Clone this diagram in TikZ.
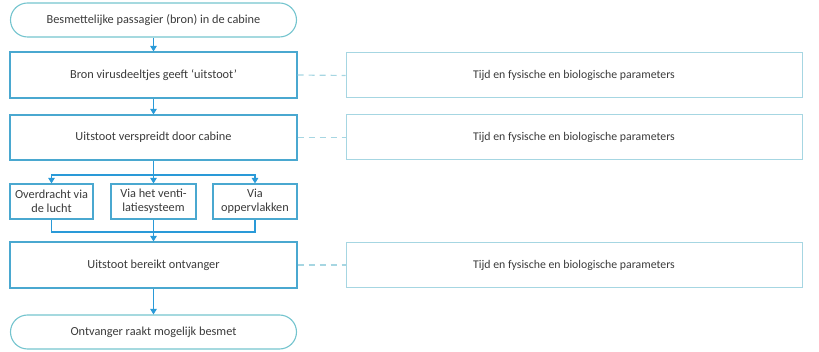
\documentclass[tikz,border=0pt]{standalone}
\usepackage{fontspec}
\setmainfont{Carlito}
\usetikzlibrary{arrows.meta}
\definecolor{mainblue}{HTML}{4AA8D0}
\definecolor{tealedge}{HTML}{74C4CE}
\definecolor{arrowblue}{HTML}{2A9AD8}
\definecolor{lightblue}{HTML}{A6D6E2}
\definecolor{txt}{HTML}{3A3A3A}
\tikzset{
  box/.style={draw=mainblue, line width=1.1pt, minimum width=287pt, minimum height=46pt, inner sep=0pt, font=\fontsize{12.3}{14}\selectfont, text=txt, align=center},
  stadium/.style={box, draw=tealedge, rounded corners=17pt, minimum width=286pt, minimum height=34pt},
  smallbox/.style={box, minimum height=35pt},
  parbox/.style={draw=lightblue, line width=1pt, minimum width=456pt, minimum height=45pt, inner sep=0pt, font=\fontsize{11.8}{14}\selectfont, text=txt},
  conn/.style={draw=arrowblue, line width=1.1pt},
  arr/.style={conn, -{Triangle[width=6.5pt,length=5.5pt]}},
  dashconn/.style={draw=lightblue, line width=1.2pt, dash pattern=on 6pt off 5pt}
}
\begin{document}
\begin{tikzpicture}[x=1pt,y=-1pt]
\useasboundingbox (0,0) rectangle (819,352);
\node[stadium] (start) at (153.5,20) {Besmettelijke passagier (bron) in de cabine};
\node[box] (b1) at (153.5,75) {Bron virusdeeltjes geeft ‘uitstoot’};
\node[box, minimum height=45pt] (b2) at (153.5,137.5) {Uitstoot verspreidt door cabine};
\node[smallbox, minimum width=83pt] (sa) at (51.5,201.5) {Overdracht via\\de lucht};
\node[smallbox, minimum width=85pt] (sb) at (153.5,201.5) {Via het venti-\\latiesysteem};
\node[smallbox, minimum width=84pt] (sc) at (255,201.5) {Via\\oppervlakken};
\node[box] (b3) at (153.5,265) {Uitstoot bereikt ontvanger};
\node[stadium] (end) at (153.5,332) {Ontvanger raakt mogelijk besmet};
\node[parbox] (p1) at (574,75.5) {Tijd en fysische en biologische parameters};
\node[parbox] (p2) at (574,137.5) {Tijd en fysische en biologische parameters};
\node[parbox] (p3) at (574,265) {Tijd en fysische en biologische parameters};
\coordinate (split) at (153.5,175);
\coordinate (merge) at (153.5,232);
\draw[arr] (start.south) -- (b1.north);
\draw[arr] (b1) -- (b2);
\draw[conn] (b2.south) -- (split);
\draw[arr] (split) -| (sa.north);
\draw[arr] (split) -| (sc.north);
\draw[arr] (split) -- (sb.north);
\draw[conn] (sa.south) |- (merge);
\draw[conn] (sc.south) |- (merge);
\draw[arr] (sb.south) -- (b3.north);
\draw[arr] (b3.south) -- (end.north);
\draw[dashconn] (b1.east) -- (p1.west);
\draw[dashconn] (b2.east) -- (p2.west);
\draw[dashconn] (b3.east) -- (p3.west);
\end{tikzpicture}
\end{document}
